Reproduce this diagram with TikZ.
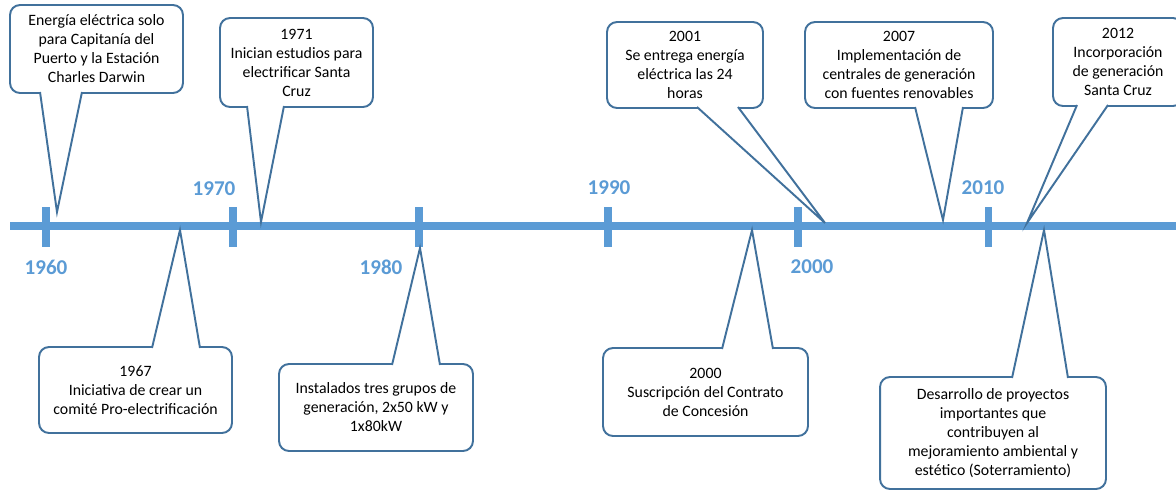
\documentclass[tikz,border=0pt]{standalone}
\usepackage{fontspec}
\setmainfont{Carlito}
\usetikzlibrary{calc}
\definecolor{linecolor}{RGB}{91,155,213}
\definecolor{notecolor}{RGB}{65,113,156}

\begin{document}
\begin{tikzpicture}[
	x=0.02cm,
	y=-0.02cm,
	note/.style={
		rectangle,
		draw=notecolor,
		line width=1.1pt,
		fill=white,
		rounded corners=0.2cm,
		align=center,
		inner sep=0pt,
		outer sep=0pt,
		font=\fontsize{9}{10.8}\selectfont
	},
	ptr/.style={
		draw=notecolor,
		fill=white,
		line width=1.1pt
	},
	year/.style={
		font=\fontsize{12}{14}\selectfont\bfseries,
		text=linecolor,
		inner sep=0pt
	},
	tick/.style={
		draw=linecolor,
		line width=4pt
	}
	]
	
	\useasboundingbox (0,0) rectangle (1176,491);
	
	% Time Line
	\coordinate (start) at (10,226);
	\coordinate (end) at (1176,226);
	\draw[tick] (start) -- (end);
	\foreach \x/\yr in {46/1960, 233/1970, 419/1980, 608/1990, 798/2000, 988/2010} {
		\coordinate (t\yr) at (\x,226);
		\draw[tick] ($(t\yr)+(0,-19)$) -- ($(t\yr)+(0,21)$);
	}
	
	% Decades
	\node[year] (y1960) at ($(t1960)+(0,41)$) {1960};
	\node[year] (y1970) at ($(t1970)+(-19,-37)$) {1970};
	\node[year] (y1980) at ($(t1980)+(-38,41)$) {1980};
	\node[year] (y1990) at ($(t1990)+(1,-38)$) {1990};
	\node[year] (y2000) at ($(t2000)+(14,41)$) {2000};
	\node[year] (y2010) at ($(t2010)+(-5,-38)$) {2010};
	
	% Callouts above the line
	\node[note, minimum width=3.46cm, minimum height=1.76cm] (darwin) at (96.5,49)
		{Energía eléctrica solo\\para Capitanía del\\Puerto y la Estación\\Charles Darwin};
	\coordinate (darwin-tip) at (57,212);
	\filldraw[ptr] ($(darwin.south)+(-56.5,-1)$) -- (darwin-tip) -- ($(darwin.south)+(-14.5,-1)$);
	
	\node[note, minimum width=3.06cm, minimum height=1.78cm] (studies) at (296.5,62.5)
		{1971\\Inician estudios para\\electrificar Santa\\Cruz};
	\coordinate (studies-tip) at (261,222);
	\filldraw[ptr] ($(studies.south)+(-49.5,-1)$) -- (studies-tip) -- ($(studies.south)+(-12.5,-1)$);
	
	\node[note, minimum width=3.12cm, minimum height=1.72cm] (hours) at (685,65)
		{2001\\Se entrega energía\\eléctrica las 24\\horas};
	\coordinate (hours-tip) at (825,223);
	\filldraw[ptr] ($(hours.south)+(12,-1)$) -- (hours-tip) -- ($(hours.south)+(53,-1)$);
	
	\node[note, minimum width=3.76cm, minimum height=1.72cm] (renew) at (899,65)
		{2007\\Implementación de\\centrales de generación\\con fuentes renovables};
	\coordinate (renew-tip) at (943,220);
	\filldraw[ptr] ($(renew.south)+(16,-1)$) -- (renew-tip) -- ($(renew.south)+(64,-1)$);
	
	\node[note, minimum width=2.6cm, minimum height=1.76cm] (scruz) at (1118,62)
		{2012\\Incorporación\\de generación\\Santa Cruz};
	\coordinate (scruz-tip) at (1027,223);
	\filldraw[ptr] ($(scruz.south)+(-41,-1)$) -- (scruz-tip) -- ($(scruz.south)+(-10,-1)$);
	
	% Callouts below the line
	\node[note, minimum width=3.86cm, minimum height=1.72cm] (committee) at (135.5,390)
		{1967\\Iniciativa de crear un\\comité Pro-electrificación};
	\coordinate (committee-tip) at (180,230);
	\filldraw[ptr] ($(committee.north)+(16.5,1)$) -- (committee-tip) -- ($(committee.north)+(64.5,1)$);
	
	\node[note, minimum width=3.88cm, minimum height=1.74cm] (groups) at (376,407.5)
		{Instalados tres grupos de\\generación, 2x50 kW y\\1x80kW};
	\coordinate (groups-tip) at (420,248);
	\filldraw[ptr] ($(groups.north)+(16,1)$) -- (groups-tip) -- ($(groups.north)+(64,1)$);
	
	\node[note, minimum width=4.1cm, minimum height=1.76cm] (contract) at (705.5,392)
		{2000\\Suscripción del Contrato\\de Concesión};
	\coordinate (contract-tip) at (752,230);
	\filldraw[ptr] ($(contract.north)+(16.5,1)$) -- (contract-tip) -- ($(contract.north)+(67.5,1)$);
	
	\node[note, minimum width=4.52cm, minimum height=2.24cm] (projects) at (993,433)
		{Desarrollo de proyectos\\importantes que\\contribuyen al\\mejoramiento ambiental y\\estético (Soterramiento)};
	\coordinate (projects-tip) at (1044,230);
	\filldraw[ptr] ($(projects.north)+(19,1)$) -- (projects-tip) -- ($(projects.north)+(75,1)$);
	
\end{tikzpicture}
\end{document}
